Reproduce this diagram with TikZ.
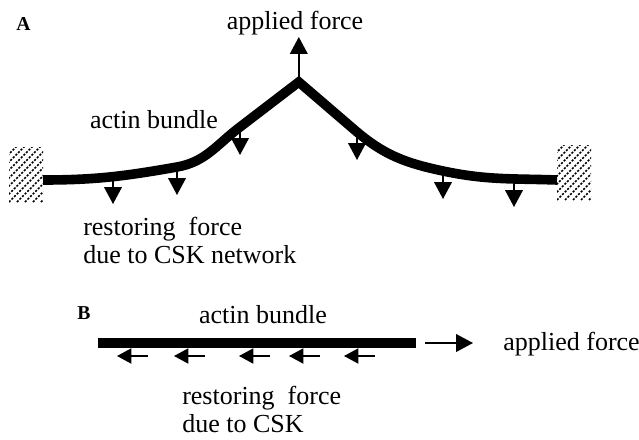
\documentclass[tikz,border=0pt]{standalone}
\usepackage{fontspec}
\setmainfont{Liberation Serif}
\usetikzlibrary{arrows.meta}

\begin{document}
\begin{tikzpicture}[
    bundle/.style={line width=.24cm, line join=miter},
    force/.style={line width=1pt, -{Triangle[width=.44cm,length=.42cm]}},
    drag/.style={line width=1pt, -{Triangle[width=.38cm,length=.36cm]}},
    hatch/.style={line width=1.1pt, dash pattern=on 1.5pt off 1.1pt},
    txt/.style={inner sep=0pt, align=left, font=\fontsize{18.5}{19.9}\selectfont},
    panel/.style={inner sep=0pt, font=\fontsize{14}{16}\selectfont\bfseries}
  ]
    \useasboundingbox (0,0) rectangle (15.975,-10.975);
    % (A) bundle pulled up in the middle
    \node[panel] (labA) at (.59,-.6) {A};
    % walls
    \foreach \wx/\wy in {.225/-5.05, 13.925/-5.0}{
      \begin{scope}
        \clip (\wx,\wy) rectangle ++(.85,1.375);
        \foreach \k in {0,...,12}{
          \draw[hatch] ({\wx+\k*.2-1.4},\wy) -- ++(1.4,1.4);
        }
      \end{scope}
    }
    \coordinate (wallL) at (1.075,-4.5);
    \coordinate (fL1) at (2.825,-4.4);
    \coordinate (fL2) at (4.425,-4.175);
    \coordinate (fL3) at (6.0,-3.175);
    \coordinate (apex) at (7.47,-2.05);
    \coordinate (fR1) at (8.925,-3.3);
    \coordinate (fR2) at (11.075,-4.275);
    \coordinate (fR3) at (12.85,-4.475);
    \coordinate (wallR) at (13.925,-4.5);
    \draw[bundle] (wallL) to[out=0,in=190] (fL2) to[out=10,in=217] (fL3)
      -- (apex) -- (fR1) to[out=-40,in=168] (fR2) to[out=-12,in=178] (wallR);
    \draw[force] (apex) -- ++(0,1.125);
    \foreach \f in {fL1,fL2,fL3,fR1,fR2,fR3}{
      \draw[force] (\f) -- ++(0,-.7);
    }
    \node[txt, anchor=base] (pullA) at (7.375,-.75) {applied force};
    \node[txt, anchor=base] (bundleA) at (3.85,-3.2) {actin bundle};
    \node[txt, anchor=base west] (cskA) at (2.075,-6.575)
      {restoring\ \ force\\due to CSK network};
    % (B) straight bundle pulled sideways
    \node[panel] (labB) at (2.1,-7.825) {B};
    \node[txt, anchor=base] (bundleB) at (6.575,-8.075) {actin bundle};
    \coordinate (barL) at (2.45,-8.575);
    \coordinate (barR) at (10.4,-8.575);
    \draw[bundle] (barL) -- (barR);
    \foreach \x [count=\i] in {3.7,5.125,6.75,8.0,9.375}{
      \coordinate (c\i) at (\x,-8.9);
      \draw[drag] (c\i) -- ++(-.775,0);
    }
    \draw[force] ([xshift=.225cm]barR) -- ++(1.2,0);
    \node[txt, anchor=base west] (pullB) at (12.575,-8.75) {applied force};
    \node[txt, anchor=base west] (cskB) at (4.55,-10.8)
      {restoring\ \ force\\due to CSK};
  \end{tikzpicture}
\end{document}
